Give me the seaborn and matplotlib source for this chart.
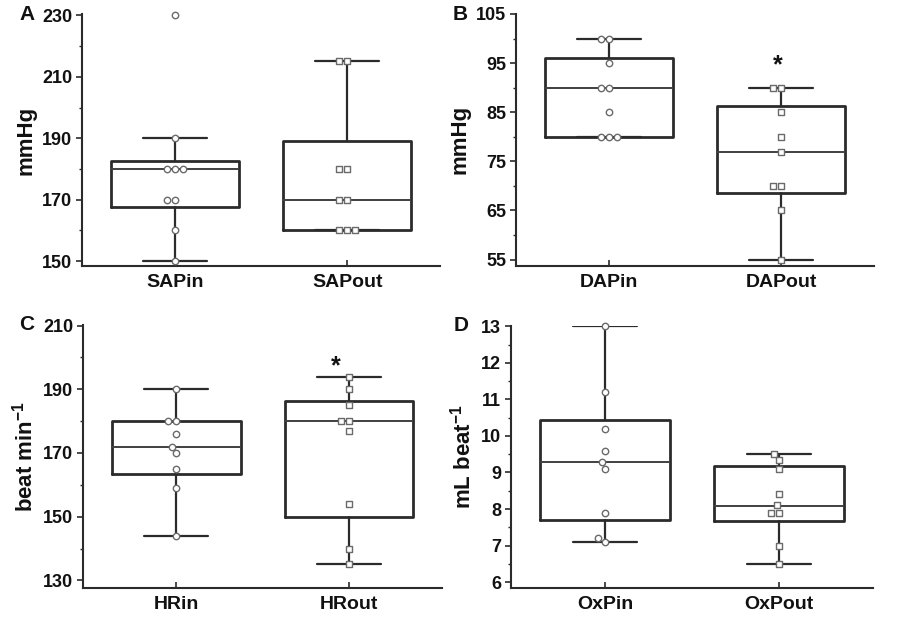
import numpy as np
import matplotlib
matplotlib.use("Agg")
import matplotlib.pyplot as plt
import seaborn as sns
from matplotlib.ticker import FixedLocator

sns.set_theme(style="ticks")
plt.rcParams['font.family'] = ['Liberation Sans', 'DejaVu Sans']
plt.rcParams['font.weight'] = 'bold'
plt.rcParams['mathtext.fontset'] = 'custom'
plt.rcParams['mathtext.rm'] = 'Liberation Sans'
plt.rcParams['mathtext.bf'] = 'Liberation Sans:bold'

# ---------------- data ----------------
sap_categories = ["SAPin", "SAPout"]
sap_in = [230, 190, 180, 180, 180, 170, 170, 160, 150]
sap_out = [215, 215, 180, 180, 170, 170, 160, 160, 160]
# box summaries: [whisker low, Q1, median, Q3, whisker high]
sap_box_in = [150, 167.5, 180, 182.5, 190]
sap_box_out = [160, 160, 170, 189, 215]

dap_categories = ["DAPin", "DAPout"]
dap_in = [100, 100, 95, 90, 90, 85, 80, 80, 80]
dap_out = [90, 90, 85, 80, 77, 70, 70, 65, 55]
dap_box_in = [80, 80, 90, 96.1, 100]
dap_box_out = [55, 68.6, 77, 86.2, 90]

hr_categories = ["HRin", "HRout"]
hr_in = [190, 180, 180, 176, 172, 170, 165, 159, 144]
hr_out = [194, 190, 185, 180, 180, 177, 154, 140, 135]
hr_box_in = [144, 163.3, 171.8, 180, 190]
hr_box_out = [135, 150, 180, 186.3, 194]

ox_categories = ["OxPin", "OxPout"]
ox_in = [13.0, 11.2, 10.2, 9.6, 9.3, 9.1, 7.9, 7.2, 7.1]
ox_out = [9.5, 9.35, 9.1, 8.4, 8.1, 7.9, 7.9, 7.0, 6.5]
ox_box_in = [7.1, 7.71, 9.28, 10.44, 13.0]
ox_box_out = [6.5, 7.66, 8.09, 9.17, 9.5]

# y tick labels per panel: (first, last, step)
y_ticks = [(150, 230, 20), (55, 105, 10), (130, 210, 20), (6, 13, 1)]

panel_letters = ["A", "B", "C", "D"]
y_labels = ["mmHg", "mmHg", r"beat min$^{-1}$", r"mL beat$^{-1}$"]
significance_marks = [None, (1, 94.6), (1, 197.2), None]

panels = [
    (sap_categories, sap_in, sap_out, sap_box_in, sap_box_out),
    (dap_categories, dap_in, dap_out, dap_box_in, dap_box_out),
    (hr_categories, hr_in, hr_out, hr_box_in, hr_box_out),
    (ox_categories, ox_in, ox_out, ox_box_in, ox_box_out),
]

# ---------------- layout / style ----------------
ylims = [(148.4, 230.3), (53.7, 105.1), (127.6, 210.2), (5.84, 13.02)]
axes_rects = [
    [0.0911, 0.5744, 0.398, 0.4024],
    [0.5733, 0.5744, 0.398, 0.4040],
    [0.0922, 0.0592, 0.399, 0.4208],
    [0.5678, 0.0592, 0.402, 0.4200],
]
letter_pos = [(27, 15), (460, 15), (27, 325), (461, 326)]
star_dx = [0, -0.02, -0.075, 0]

line_col = "#2b2b2b"
edge_col = "#6a6a6a"

fig = plt.figure(figsize=(9, 6.25), dpi=100)

for i, (cats, vin, vout, bin_, bout) in enumerate(panels):
    ax = fig.add_axes(axes_rects[i])
    stats = []
    for b in (bin_, bout):
        stats.append(dict(whislo=b[0], q1=b[1], med=b[2], q3=b[3], whishi=b[4], fliers=[]))
    ax.bxp(stats, positions=[0, 1], widths=0.745, capwidths=0.37, showfliers=False,
           boxprops=dict(color=line_col, linewidth=2.0),
           whiskerprops=dict(color=line_col, linewidth=1.6),
           capprops=dict(color=line_col, linewidth=1.6),
           medianprops=dict(color="#404040", linewidth=1.4),
           manage_ticks=False, zorder=1)
    sns.swarmplot(x=[cats[0]] * len(vin), y=vin, order=cats, marker="o", size=4.6,
                  color="white", edgecolor=edge_col, linewidth=1.0, ax=ax, zorder=3)
    sns.swarmplot(x=[cats[1]] * len(vout), y=vout, order=cats, marker="s", size=4.4,
                  color="white", edgecolor=edge_col, linewidth=1.0, ax=ax, zorder=3)
    for coll in ax.collections:
        coll.set_clip_on(False)

    ax.set_xlim(-0.54, 1.54)
    ax.set_ylim(*ylims[i])
    t0, t1, st = y_ticks[i]
    majors = np.arange(t0, t1 + st * 0.01, st)
    minors = majors[:-1] + st / 2
    ax.yaxis.set_major_locator(FixedLocator(majors))
    ax.yaxis.set_minor_locator(FixedLocator(minors))
    ax.set_yticklabels([f"{v:g}" for v in majors], fontweight="bold")
    ax.set_xticks([0, 1])
    ax.set_xticklabels(cats, fontsize=14, fontweight="bold")
    ax.tick_params(axis="y", which="major", direction="out", length=4, width=1.2,
                   color=line_col, labelsize=13, pad=3, labelcolor="#111111")
    ax.tick_params(axis="y", which="minor", direction="out", length=2.5, width=1.0,
                   color=line_col)
    ax.tick_params(axis="x", which="major", direction="in", length=4, width=1.2,
                   color=line_col, pad=6, labelcolor="#111111")
    ax.set_xlabel("")
    ax.set_ylabel(y_labels[i], fontsize=16, fontweight="bold", labelpad=4, color="#111111")
    for s in ["top", "right"]:
        ax.spines[s].set_visible(False)
    for s in ["left", "bottom"]:
        ax.spines[s].set_color(line_col)
        ax.spines[s].set_linewidth(1.5)

    if significance_marks[i] is not None:
        cx, cy = significance_marks[i]
        ax.text(cx + star_dx[i], cy, "*", ha="center", va="center", fontsize=18,
                fontweight="bold", color="#111111")

    lx, ly = letter_pos[i]
    fig.text(lx / 900, 1 - ly / 625, panel_letters[i], ha="center", va="center",
             fontsize=15, fontweight="bold", color="#111111")

fig.savefig("out.png", dpi=100)
